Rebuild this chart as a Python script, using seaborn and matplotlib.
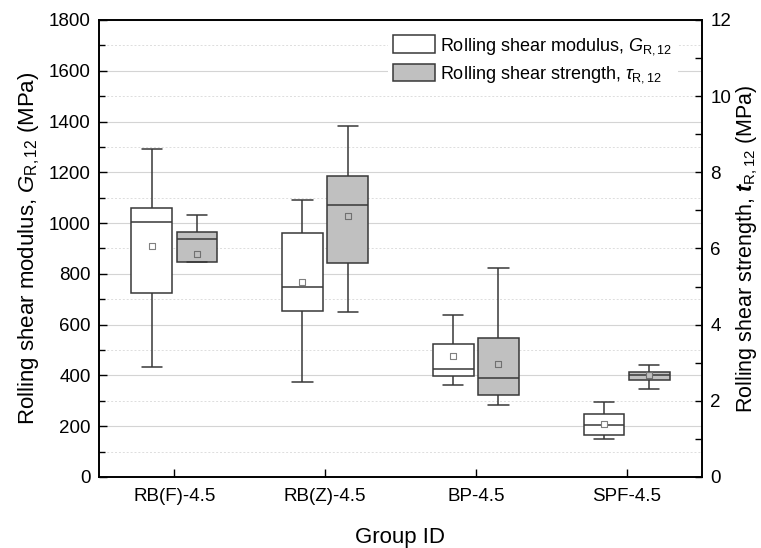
import numpy as np
import pandas as pd
import matplotlib
matplotlib.use("Agg")
import matplotlib.pyplot as plt
from matplotlib.patches import Patch
from matplotlib.ticker import MultipleLocator
import seaborn as sns

groups = ["RB(F)-4.5", "RB(Z)-4.5", "BP-4.5", "SPF-4.5"]
series = ["modulus", "strength"]

# rolling shear modulus (MPa): whisker low, Q1, median, Q3, whisker high, mean
mod_low = [435, 375, 363, 149]
mod_q1 = [725, 654, 396, 166]
mod_med = [1004, 750, 426, 205]
mod_q3 = [1059, 962, 522, 247]
mod_high = [1290, 1090, 639, 295]
mod_mean = [911, 766, 475, 209]

# rolling shear strength (MPa)
str_low = [5.65, 4.32, 1.90, 2.32]
str_q1 = [5.65, 5.61, 2.15, 2.54]
str_med = [6.24, 7.14, 2.60, 2.67]
str_q3 = [6.42, 7.90, 3.64, 2.76]
str_high = [6.88, 9.21, 5.50, 2.93]
str_mean = [5.86, 6.86, 2.96, 2.67]


def five_numbers(name, low, q1, med, q3, high):
    rows = []
    for i, g in enumerate(groups):
        for v in (low[i], q1[i], med[i], q3[i], high[i]):
            rows.append({"group": g, "series": name, "value": v})
    return pd.DataFrame(rows)


mod_df = five_numbers("modulus", mod_low, mod_q1, mod_med, mod_q3, mod_high)
str_df = five_numbers("strength", str_low, str_q1, str_med, str_q3, str_high)

sns.set_theme(style="ticks")
plt.rcParams["font.family"] = ["Liberation Sans", "DejaVu Sans"]
plt.rcParams["mathtext.fontset"] = "custom"
plt.rcParams["mathtext.rm"] = "Liberation Sans"
plt.rcParams["mathtext.it"] = "Liberation Sans:italic"
plt.rcParams["mathtext.bf"] = "Liberation Sans:bold"
plt.rcParams["mathtext.bfit"] = "Liberation Sans:italic:bold"
for k in ("text.color", "axes.labelcolor", "xtick.color", "ytick.color"):
    plt.rcParams[k] = "black"

pal = {"modulus": "white", "strength": "#c0c0c0"}
edge = "#383838"

fig = plt.figure(figsize=(7.61, 5.48), dpi=100)
ax = fig.add_axes([0.130, 0.1296, 0.7925, 0.834])
ax2 = ax.twinx()

box_kw = dict(x="group", y="value", hue="series", hue_order=series, order=groups,
              palette=pal, width=0.6, gap=0.1, dodge=True, whis=(0, 100),
              linecolor=edge, linewidth=1.1, legend=False)
sns.boxplot(data=mod_df, ax=ax, **box_kw)
sns.boxplot(data=str_df, ax=ax2, **box_kw)

pos = np.arange(len(groups))
sns.scatterplot(x=pos - 0.15, y=mod_mean, marker="s", s=20, color="white",
                edgecolor="#808080", linewidth=0.8, ax=ax, zorder=5)
sns.scatterplot(x=pos + 0.15, y=str_mean, marker="s", s=20, color="#c0c0c0",
                edgecolor="#707070", linewidth=0.8, ax=ax2, zorder=5)

ax.set_xlim(-0.5, 3.5)
ax.set_ylim(0, 1800)
ax2.set_ylim(0, 12)
ax.yaxis.set_major_locator(MultipleLocator(200))
ax.yaxis.set_minor_locator(MultipleLocator(100))
ax2.yaxis.set_major_locator(MultipleLocator(2))
ax2.yaxis.set_minor_locator(MultipleLocator(1))

ax.grid(axis="y", which="major", color="#d4d4d4", linewidth=0.8, linestyle="-")
ax.grid(axis="y", which="minor", color="#dddddd", linewidth=0.7, linestyle=(0, (2, 2)))
ax.set_axisbelow(True)

for a in (ax, ax2):
    for s in a.spines.values():
        s.set_color("black")
        s.set_linewidth(1.2)
ax.tick_params(axis="both", which="both", direction="in", labelsize=13.5,
               color="black", width=1.0)
ax.tick_params(axis="y", which="major", length=6, pad=6)
ax.tick_params(axis="y", which="minor", length=4)
ax.tick_params(axis="x", which="major", length=6, pad=8)
ax2.tick_params(axis="y", which="both", direction="in", labelsize=13.5,
                length=5, width=1.0, pad=6)

ax.set_xlabel("Group ID", fontsize=16, labelpad=16)
ax.set_ylabel(r"Rolling shear modulus, $G_{\mathrm{R,12}}$ (MPa)", fontsize=16, labelpad=5)
ax2.set_ylabel(r"Rolling shear strength, $\mathbfit{t}_{\mathrm{R,12}}$ (MPa)",
               fontsize=15.5, labelpad=2)

handles = [Patch(facecolor="white", edgecolor=edge, linewidth=1.1),
           Patch(facecolor="#c0c0c0", edgecolor=edge, linewidth=1.1)]
labels = [r"Rolling shear modulus, $G_{\mathrm{R,12}}$",
          r"Rolling shear strength, $\tau_{\mathrm{R,12}}$"]
leg = ax2.legend(handles, labels, loc="upper left", bbox_to_anchor=(0.479, 0.978),
                 fontsize=13, frameon=True, fancybox=False, facecolor="white",
                 edgecolor="none", framealpha=1, handlelength=2.3,
                 handleheight=1.1, handletextpad=0.3, labelspacing=0.4,
                 borderaxespad=0, borderpad=0.3)

fig.savefig("out.png", dpi=100)
